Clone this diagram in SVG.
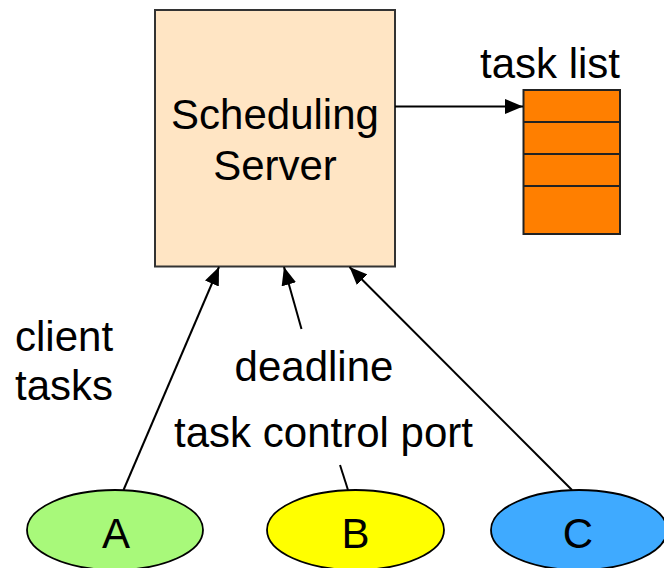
<svg xmlns="http://www.w3.org/2000/svg" width="664" height="568" viewBox="0 0 664 568">
<style>
  text { font-family: "Liberation Sans", Arial, sans-serif; font-size: 42px; fill: #000; }
  .mid { text-anchor: middle; }
  .conn { stroke: #000; stroke-width: 2; fill: none; }
  .ell { stroke: #000; stroke-width: 1.8; }
</style>
<defs>
  <marker id="arr" markerUnits="userSpaceOnUse" markerWidth="19" markerHeight="15" refX="18" refY="7.5" orient="auto">
    <path d="M0,0 L18,7.5 L0,15 Z" fill="#000"/>
  </marker>
</defs>
<rect width="664" height="568" fill="#fff"/>
<g id="server">
  <rect x="155" y="10" width="240" height="256.5" fill="#FFE5C4" stroke="#333" stroke-width="2"/>
  <text class="mid" x="275" y="129">Scheduling</text>
  <text class="mid" x="275" y="180">Server</text>
</g>
<g id="tasklist">
  <text class="mid" x="550" y="78">task list</text>
  <rect x="523.5" y="90" width="96.5" height="144" fill="#FF7F00" stroke="#222" stroke-width="2"/>
  <line x1="523.5" y1="122" x2="620" y2="122" stroke="#222" stroke-width="2"/>
  <line x1="523.5" y1="154" x2="620" y2="154" stroke="#222" stroke-width="2"/>
  <line x1="523.5" y1="186" x2="620" y2="186" stroke="#222" stroke-width="2"/>
</g>
<g id="labels">
  <text x="15" y="351">client</text>
  <text x="15" y="400">tasks</text>
  <text class="mid" x="314" y="381">deadline</text>
  <text class="mid" x="323.5" y="447">task control port</text>
</g>
<g id="nodeA">
  <ellipse class="ell" cx="115" cy="530" rx="88" ry="40" fill="#A8F97A"/>
  <text class="mid" x="116" y="548">A</text>
</g>
<g id="nodeB">
  <ellipse class="ell" cx="355.5" cy="530" rx="88.5" ry="40" fill="#FFFF00"/>
  <text class="mid" x="355.5" y="548">B</text>
</g>
<g id="nodeC">
  <ellipse class="ell" cx="579" cy="530" rx="88" ry="40" fill="#3FAAFF"/>
  <text class="mid" x="578" y="548">C</text>
</g>
<g id="connectors">
  <line class="conn" x1="395" y1="106.5" x2="523" y2="106.5" marker-end="url(#arr)"/>
  <line class="conn" x1="123.5" y1="490" x2="219" y2="267" marker-end="url(#arr)"/>
  <line class="conn" x1="301.5" y1="329" x2="284" y2="267" marker-end="url(#arr)"/>
  <line class="conn" x1="572" y1="490" x2="349.5" y2="267" marker-end="url(#arr)"/>
  <line class="conn" x1="340" y1="465" x2="348" y2="490"/>
</g>
</svg>
